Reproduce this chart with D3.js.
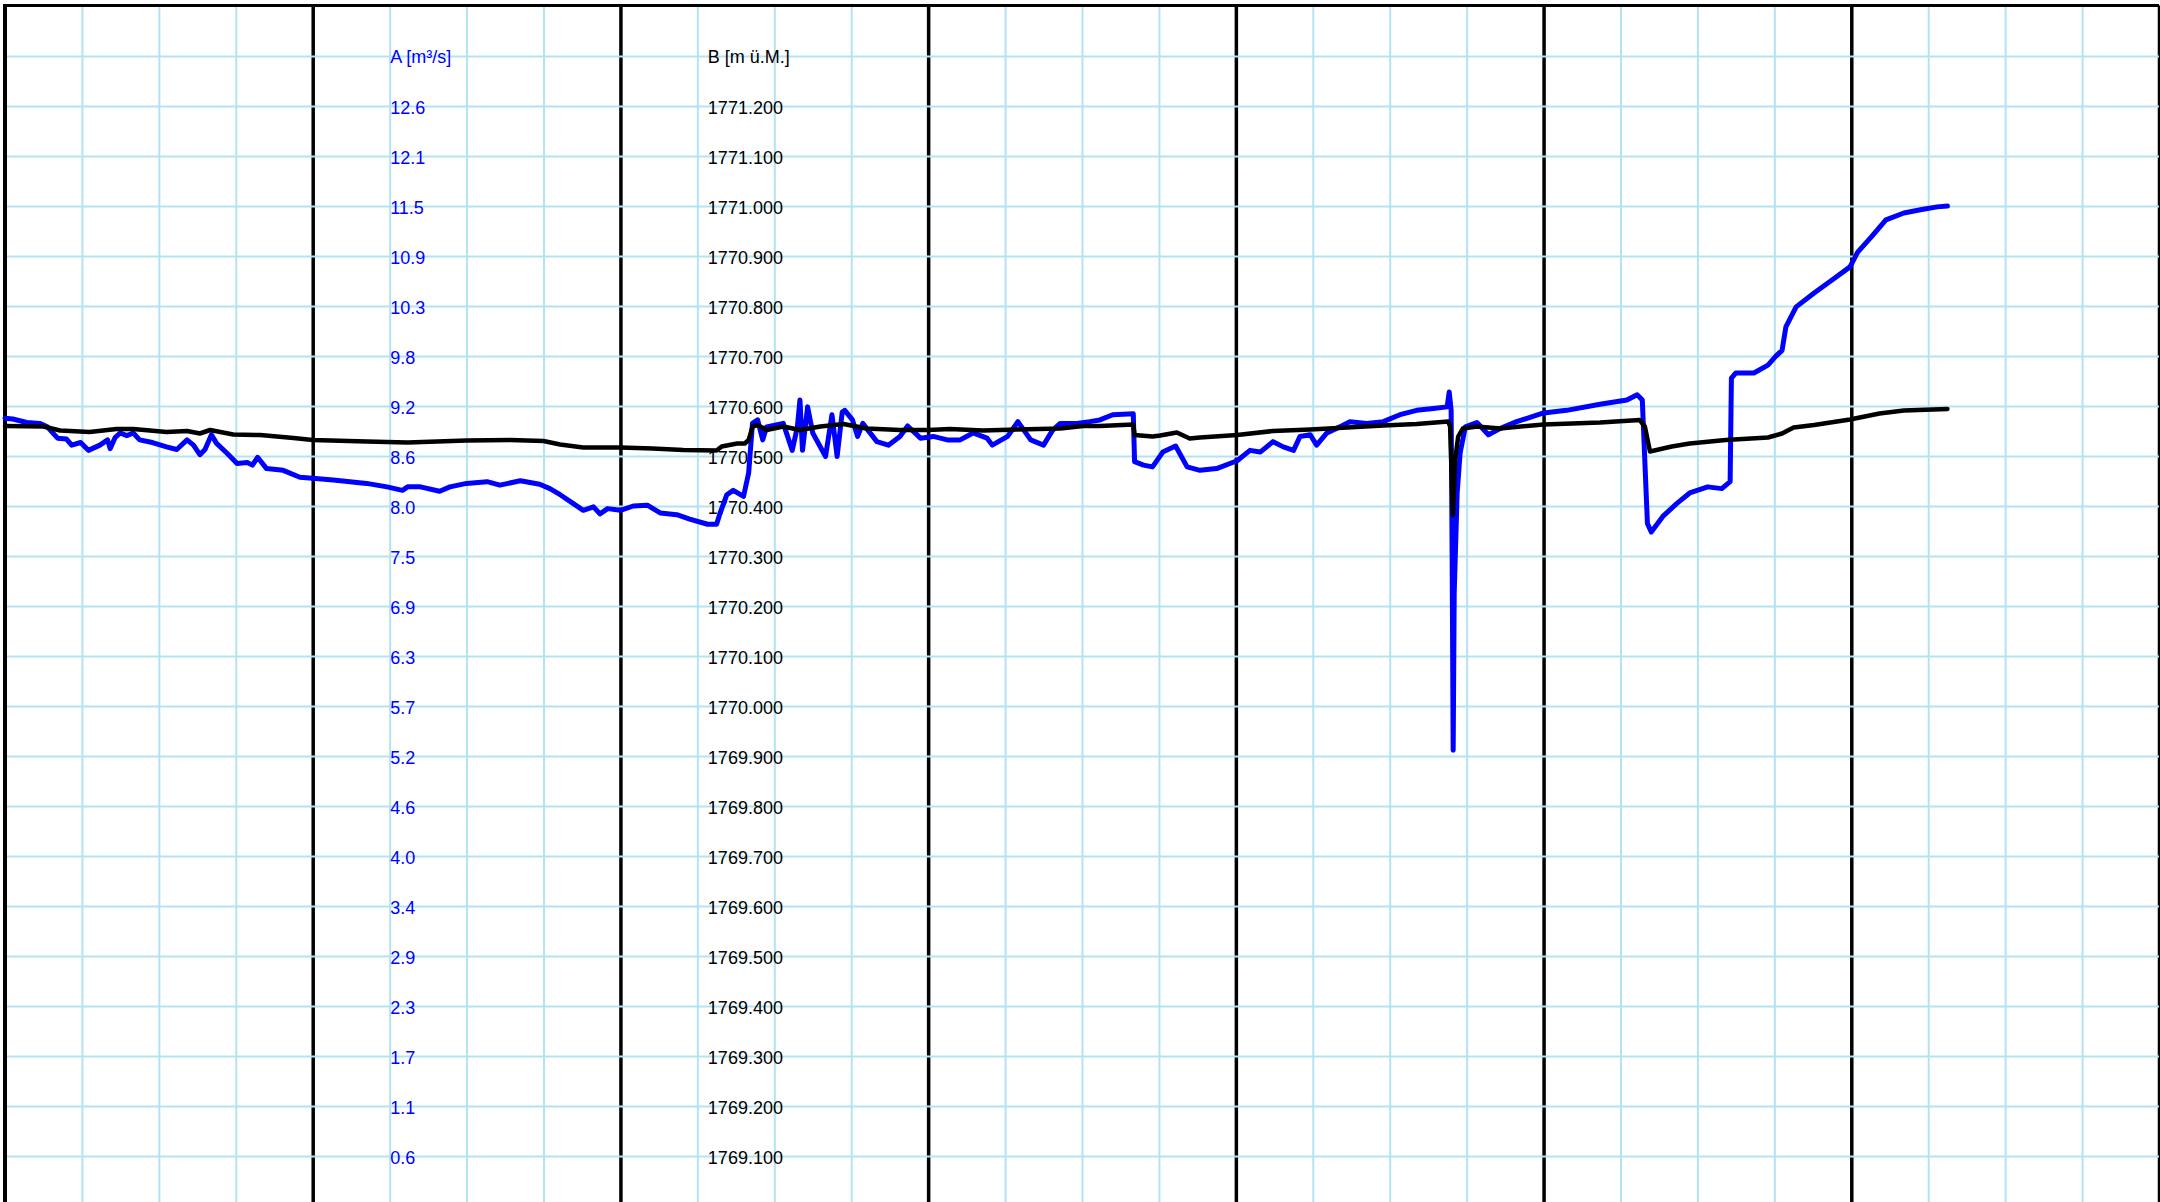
<!DOCTYPE html>
<html>
<head>
<meta charset="utf-8">
<script src="https://cdn.jsdelivr.net/npm/d3@7"></script>
<style>
  body { margin: 0; background: #fff; }
  svg { display: block; }
  .grid line { stroke: #b3e3f1; stroke-width: 2; }
  .major line { stroke: #000; stroke-width: 3.5; }
  .axis text { font-family: "Liberation Sans", Arial, Helvetica, sans-serif; font-size: 18px; }
</style>
</head>
<body>
<div id="chart"></div>
<script>
// hours since start of the week shown
var levelHours = [0, 3.0, 4.3, 6.6, 8.7, 10.0, 12.6, 14.2, 15.2, 16.0,
    17.8, 19.9, 22.5, 24.0, 28.2, 31.4, 36.0, 39.4, 42.0, 43.3,
    45.1, 48.0, 50.5, 52.9, 55.5, 55.9, 57.1, 57.7, 58.0, 58.3,
    58.7, 59.4, 60.7, 62.0, 63.6, 65.4, 67.2, 69.8, 72.0, 73.7,
    76.3, 78.9, 82.3, 84.1, 85.4, 88.0, 88.1, 89.5, 90.1, 91.4,
    92.4, 93.2, 96.1, 98.9, 101.8, 104.7, 107.5, 110.1, 112.56, 112.71,
    112.93, 113.10, 113.34, 113.7, 114.8, 116.6, 120.0, 124.4, 127.5, 127.9,
    128.3, 130.0, 131.4, 134.2, 137.5, 138.6, 139.5, 141.1, 143.9, 146.2,
    148.1, 151.5];
// B [m ü.M.]
var levelValues = [1770.560, 1770.559, 1770.551, 1770.548, 1770.554, 1770.554, 1770.548, 1770.550, 1770.545, 1770.552,
    1770.543, 1770.542, 1770.536, 1770.532, 1770.529, 1770.527, 1770.531, 1770.532, 1770.530, 1770.523,
    1770.517, 1770.517, 1770.515, 1770.512, 1770.511, 1770.519, 1770.525, 1770.525, 1770.532, 1770.559,
    1770.562, 1770.552, 1770.559, 1770.552, 1770.559, 1770.564, 1770.555, 1770.552, 1770.552, 1770.554,
    1770.551, 1770.553, 1770.555, 1770.560, 1770.560, 1770.563, 1770.542, 1770.539, 1770.541, 1770.547,
    1770.535, 1770.537, 1770.542, 1770.550, 1770.553, 1770.557, 1770.561, 1770.564, 1770.569, 1770.559,
    1770.382, 1770.492, 1770.539, 1770.555, 1770.559, 1770.555, 1770.563, 1770.567, 1770.572, 1770.559,
    1770.509, 1770.519, 1770.525, 1770.532, 1770.537, 1770.545, 1770.557, 1770.562, 1770.573, 1770.585,
    1770.591, 1770.594];

var flowHours = [0, 0.6, 1.7, 2.7, 3.3, 4.1, 4.8, 5.2, 5.9, 6.5,
    7.4, 8.0, 8.2, 8.6, 9.0, 9.5, 10.0, 10.5, 11.5, 12.6,
    13.4, 14.2, 14.7, 15.2, 15.6, 16.1, 16.5, 17.3, 18.1, 18.9,
    19.3, 19.7, 20.4, 21.7, 23.0, 24.0, 25.6, 28.2, 29.8, 31.0,
    31.4, 32.4, 33.9, 34.7, 36.0, 37.6, 38.6, 40.2, 41.7, 42.5,
    43.3, 44.3, 45.1, 45.9, 46.4, 47.0, 48.0, 49.0, 50.1, 51.1,
    52.4, 53.4, 54.8, 55.5, 55.8, 56.3, 56.8, 57.6, 58.0, 58.3,
    58.7, 59.1, 59.4, 60.7, 61.4, 61.8, 62.0, 62.2, 62.6, 63.0,
    64.0, 64.5, 64.9, 65.3, 65.5, 66.1, 66.5, 66.9, 68.0, 68.9,
    69.8, 70.4, 71.4, 72.4, 73.5, 74.5, 75.5, 76.6, 77.0, 78.2,
    79.0, 80.0, 81.0, 81.7, 82.3, 83.6, 84.6, 85.4, 86.4, 88.0,
    88.1, 88.8, 89.5, 90.3, 91.3, 92.2, 93.2, 94.5, 96.1, 97.1,
    97.9, 98.9, 99.7, 100.5, 101.0, 101.8, 102.3, 103.1, 104.1, 104.9,
    106.2, 107.5, 108.8, 110.1, 111.4, 112.48, 112.64, 112.79, 112.87, 112.95,
    113.03, 113.26, 113.49, 113.9, 114.8, 115.7, 116.6, 117.9, 120.0, 121.8,
    124.4, 126.5, 127.3, 127.7, 128.1, 128.4, 129.3, 130.4, 131.4, 132.8,
    133.9, 134.55, 134.65, 135.0, 136.4, 137.5, 138.1, 138.6, 138.9, 139.7,
    141.1, 142.5, 143.9, 144.5, 145.6, 146.7, 148.1, 149.5, 150.7, 151.5];
// A [m³/s]
var flowValues = [9.06, 9.05, 9.01, 9.00, 8.96, 8.83, 8.82, 8.75, 8.78, 8.69,
    8.75, 8.81, 8.71, 8.84, 8.89, 8.86, 8.89, 8.81, 8.78, 8.73,
    8.70, 8.81, 8.75, 8.64, 8.70, 8.87, 8.77, 8.66, 8.54, 8.55,
    8.52, 8.61, 8.48, 8.46, 8.38, 8.37, 8.35, 8.31, 8.27, 8.23,
    8.27, 8.27, 8.22, 8.27, 8.31, 8.33, 8.29, 8.34, 8.30, 8.25,
    8.18, 8.08, 8.00, 8.04, 7.96, 8.02, 8.00, 8.05, 8.06, 7.97,
    7.95, 7.90, 7.84, 7.84, 7.98, 8.18, 8.23, 8.16, 8.43, 9.00,
    9.04, 8.81, 8.96, 9.00, 8.69, 8.96, 9.27, 8.69, 9.19, 8.89,
    8.62, 9.10, 8.62, 9.13, 9.15, 9.04, 8.85, 9.00, 8.79, 8.75,
    8.85, 8.97, 8.83, 8.85, 8.81, 8.81, 8.89, 8.83, 8.75, 8.85,
    9.02, 8.81, 8.75, 8.92, 9.00, 9.00, 9.02, 9.04, 9.10, 9.11,
    8.56, 8.52, 8.50, 8.67, 8.74, 8.50, 8.46, 8.48, 8.57, 8.69,
    8.67, 8.79, 8.73, 8.69, 8.85, 8.87, 8.75, 8.89, 8.96, 9.02,
    9.00, 9.02, 9.10, 9.15, 9.17, 9.19, 9.36, 9.15, 7.43, 5.24,
    7.05, 8.20, 8.66, 8.96, 9.01, 8.87, 8.94, 9.02, 9.12, 9.15,
    9.22, 9.27, 9.33, 9.27, 7.85, 7.75, 7.93, 8.08, 8.20, 8.27,
    8.25, 8.33, 9.52, 9.58, 9.58, 9.67, 9.77, 9.84, 10.11, 10.34,
    10.50, 10.65, 10.80, 10.97, 11.15, 11.34, 11.42, 11.46, 11.49, 11.50];

var levelTicks = [1771.2, 1771.1, 1771.0, 1770.9, 1770.8, 1770.7, 1770.6, 1770.5, 1770.4, 1770.3, 1770.2,
    1770.1, 1770.0, 1769.9, 1769.8, 1769.7, 1769.6, 1769.5, 1769.4, 1769.3, 1769.2, 1769.1];
var flowTickLabels = ["12.6", "12.1", "11.5", "10.9", "10.3", "9.8", "9.2", "8.6", "8.0", "7.5", "6.9",
    "6.3", "5.7", "5.2", "4.6", "4.0", "3.4", "2.9", "2.3", "1.7", "1.1", "0.6"];
var flowTitle = "A [m³/s]";
var levelTitle = "B [m ü.M.]";

var width = 2160, height = 1202;
var plotLeft = 5, plotRight = 2159, plotTop = 5.5, plotBottom = 1230;

var x = d3.scaleLinear().domain([0, 168]).range([plotLeft, plotRight]);
var yB = d3.scaleLinear().domain([1769.1, 1771.2]).range([1156, 106]);
var yA = d3.scaleLinear().domain([0.575, 12.65]).range([1156, 106]);

var svg = d3.select("#chart").append("svg")
    .attr("width", width)
    .attr("height", height);

svg.append("rect").attr("width", width).attr("height", height).attr("fill", "#fff");

var minorHours = d3.range(6, 168, 6).filter(function (h) { return h % 24 !== 0; });
var majorHours = d3.range(24, 169, 24);
var gridLevels = d3.range(0, 24).map(function (i) { return 1769.0 + i * 0.1; });

svg.append("g")
    .attr("class", "grid")
    .attr("transform", "translate(0," + plotTop + ")")
    .call(d3.axisBottom(x).tickValues(minorHours).tickSize(plotBottom - plotTop).tickFormat(""))
    .call(function (g) { g.select(".domain").remove(); });

svg.append("g")
    .attr("class", "major")
    .attr("transform", "translate(0," + plotTop + ")")
    .call(d3.axisBottom(x).tickValues(majorHours).tickSize(plotBottom - plotTop).tickFormat(""))
    .call(function (g) { g.select(".domain").remove(); });

svg.append("g")
    .attr("class", "grid")
    .attr("transform", "translate(" + plotLeft + ",0)")
    .call(d3.axisRight(yB).tickValues(gridLevels).tickSize(plotRight - plotLeft).tickFormat(""))
    .call(function (g) { g.select(".domain").remove(); });

// frame
svg.append("line").attr("x1", plotLeft).attr("x2", plotRight).attr("y1", plotTop).attr("y2", plotTop)
    .attr("stroke", "#000").attr("stroke-width", 3);
svg.append("line").attr("x1", plotLeft).attr("x2", plotLeft).attr("y1", plotTop - 1.5).attr("y2", height)
    .attr("stroke", "#000").attr("stroke-width", 4);

// value labels inside the plot
var aAxis = svg.append("g")
    .attr("class", "axis")
    .attr("transform", "translate(" + (x(30) + 0.5) + ",0)")
    .call(d3.axisRight(yB).tickValues(levelTicks).tickSize(0).tickPadding(0)
        .tickFormat(function (d, i) { return flowTickLabels[i]; }));
aAxis.select(".domain").remove();
aAxis.selectAll("text").attr("dy", "0.4em").attr("fill", "#0000ff");
aAxis.append("text")
    .attr("y", yB(1771.3)).attr("dy", "0.4em")
    .attr("fill", "#0000ff")
    .text(flowTitle);

var bAxis = svg.append("g")
    .attr("class", "axis")
    .attr("transform", "translate(" + (x(54) + 10.5) + ",0)")
    .call(d3.axisRight(yB).tickValues(levelTicks).tickSize(0).tickPadding(0)
        .tickFormat(d3.format(".3f")));
bAxis.select(".domain").remove();
bAxis.selectAll("text").attr("dy", "0.4em").attr("fill", "#000");
bAxis.append("text")
    .attr("y", yB(1771.3)).attr("dy", "0.4em")
    .attr("fill", "#000")
    .text(levelTitle);

// series
var flow = d3.zip(flowHours, flowValues);
var level = d3.zip(levelHours, levelValues);

svg.append("path")
    .datum(flow)
    .attr("fill", "none")
    .attr("stroke", "#0000ff")
    .attr("stroke-width", 5)
    .attr("stroke-linejoin", "round")
    .attr("stroke-linecap", "round")
    .attr("d", d3.line()
        .x(function (d) { return x(d[0]); })
        .y(function (d) { return yA(d[1]); }));

svg.append("path")
    .datum(level)
    .attr("fill", "none")
    .attr("stroke", "#000")
    .attr("stroke-width", 4.5)
    .attr("stroke-linejoin", "round")
    .attr("stroke-linecap", "round")
    .attr("d", d3.line()
        .x(function (d) { return x(d[0]); })
        .y(function (d) { return yB(d[1]); }));
</script>
</body>
</html>
